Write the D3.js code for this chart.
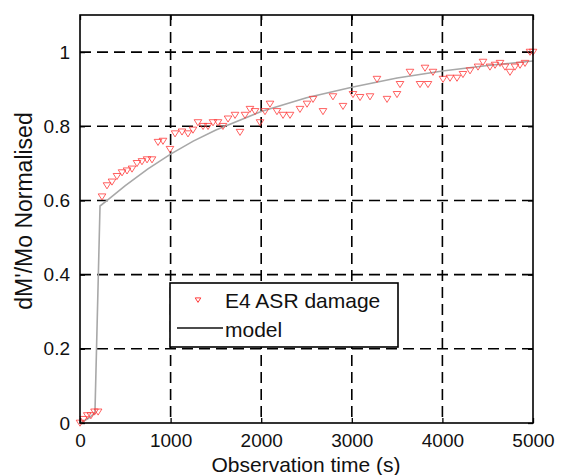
<!DOCTYPE html>
<html><head><meta charset="utf-8">
<script src="https://cdn.jsdelivr.net/npm/d3@7"></script>
<style>body{margin:0;background:#fff}svg{display:block}text{font-family:"Liberation Sans",Arial,sans-serif;fill:#111}</style>
</head><body><svg id="c" width="561" height="475"></svg>
<script>
const obsTime = [0,40,80,120,160,200,243,298,353,408,464,519,574,629,684,740,795,861,916,993,1049,1126,1192,1247,1302,1358,1413,1468,1523,1578,1634,1711,1766,1821,1876,1932,1987,2042,2097,2174,2241,2318,2428,2506,2572,2682,2792,2903,3013,3091,3201,3278,3389,3499,3532,3642,3753,3808,3841,3896,4007,4084,4161,4227,4305,4393,4448,4525,4581,4636,4691,4746,4801,4857,4912,4967,5000];
const obsValue = [0,0.01,0.02,0.02,0.03,0.03,0.61,0.64,0.65,0.665,0.675,0.68,0.685,0.70,0.705,0.71,0.71,0.757,0.76,0.738,0.78,0.785,0.78,0.79,0.81,0.80,0.80,0.81,0.81,0.80,0.82,0.83,0.784,0.83,0.846,0.84,0.81,0.84,0.86,0.84,0.83,0.83,0.846,0.86,0.873,0.84,0.88,0.854,0.886,0.878,0.88,0.927,0.873,0.886,0.913,0.946,0.913,0.957,0.913,0.946,0.927,0.93,0.93,0.94,0.95,0.96,0.973,0.96,0.965,0.97,0.96,0.946,0.96,0.965,0.97,1.0,1.0];
const modelTime = [0,90,165,221,300,500,750,1000,1250,1500,2000,2500,3000,3500,4000,4500,5000];
const modelValue = [0,0.012,0.027,0.585,0.6,0.64,0.685,0.725,0.76,0.79,0.84,0.877,0.905,0.93,0.949,0.964,0.976];
const xTicks = [0,1000,2000,3000,4000,5000];
const yTicks = [0,0.2,0.4,0.6,0.8,1];
const xTickLabels = ["0","1000","2000","3000","4000","5000"];
const yTickLabels = ["0","0.2","0.4","0.6","0.8","1"];
const legendLabels = ["E4 ASR damage","model"];

const svg = d3.select("#c");
const L=80,R=533,T=15,B=423;
const x = d3.scaleLinear().domain([0,5000]).range([L,R]);
const y = d3.scaleLinear().domain([0,1.1]).range([B,T]);

const g = svg.append("g");
g.selectAll(".vg").data(xTicks.slice(1,-1)).join("line")
 .attr("x1",d=>x(d)).attr("x2",d=>x(d)).attr("y1",T).attr("y2",B)
 .attr("stroke","#000").attr("stroke-width",1.6).attr("stroke-dasharray","11,6");
g.selectAll(".hg").data(yTicks.slice(1)).join("line")
 .attr("y1",d=>y(d)).attr("y2",d=>y(d)).attr("x1",L).attr("x2",R)
 .attr("stroke","#000").attr("stroke-width",1.6).attr("stroke-dasharray","11,6");

const ax = d3.axisBottom(x).tickValues(xTicks).tickFormat((d,i)=>xTickLabels[i]).tickSizeInner(-5).tickSizeOuter(0).tickPadding(11);
const ay = d3.axisLeft(y).tickValues(yTicks).tickFormat((d,i)=>yTickLabels[i]).tickSizeInner(-5).tickSizeOuter(0).tickPadding(10);
const axT = d3.axisTop(x).tickValues(xTicks).tickFormat("").tickSizeInner(-5).tickSizeOuter(0);
const ayR = d3.axisRight(y).tickValues(yTicks).tickFormat("").tickSizeInner(-5).tickSizeOuter(0);
function style(sel){sel.select(".domain").remove();sel.selectAll("line").attr("stroke","#000").attr("stroke-width",1.3);sel.selectAll("text").style("font-size","19px").attr("fill","#222").style("font-family","'Liberation Sans',Arial,sans-serif");}
svg.append("g").attr("transform",`translate(0,${B})`).call(ax).call(style);
svg.append("g").attr("transform",`translate(${L},0)`).call(ay).call(style);
svg.append("g").attr("transform",`translate(0,${T})`).call(axT).call(style);
svg.append("g").attr("transform",`translate(${R},0)`).call(ayR).call(style);

const line = d3.line().x((d,i)=>x(modelTime[i])).y((d,i)=>y(modelValue[i]));
svg.append("path").attr("d",line(modelTime)).attr("fill","none").attr("stroke","#a8a8a8").attr("stroke-width",1.6);

const tri = s => `M${-s},${-s*0.75}L${s},${-s*0.75}L0,${s*0.85}Z`;
svg.append("g").selectAll("path").data(obsTime).join("path")
 .attr("transform",(d,i)=>`translate(${x(d)},${y(obsValue[i])})`)
 .attr("d",tri(3.8)).attr("fill","none").attr("stroke","#ff3a3a").attr("stroke-opacity",0.8).attr("stroke-width",1);

svg.append("rect").attr("x",L).attr("y",T).attr("width",R-L).attr("height",B-T)
 .attr("fill","none").attr("stroke","#000").attr("stroke-width",1.6);

const lg = svg.append("g");
lg.append("rect").attr("x",170).attr("y",283).attr("width",228).attr("height",64).attr("fill","#fff").attr("stroke","#000").attr("stroke-width",1.6);
lg.append("path").attr("transform","translate(198,300)").attr("d",tri(2.8)).attr("fill","none").attr("stroke","#ff3a3a").attr("stroke-width",1);
lg.append("text").attr("x",225).attr("y",308).style("font-size","21px").text(legendLabels[0]);
lg.append("line").attr("x1",177).attr("x2",223).attr("y1",328).attr("y2",328).attr("stroke","#111").attr("stroke-width",1.4);
lg.append("text").attr("x",225).attr("y",337).style("font-size","21px").text(legendLabels[1]);

svg.append("text").attr("x",306).attr("y",472).attr("text-anchor","middle").style("font-size","21px").text("Observation time (s)");
svg.append("text").attr("transform","translate(32,211) rotate(-90)").attr("text-anchor","middle").style("font-size","23px").text("dM'/Mo Normalised");
</script></body></html>
